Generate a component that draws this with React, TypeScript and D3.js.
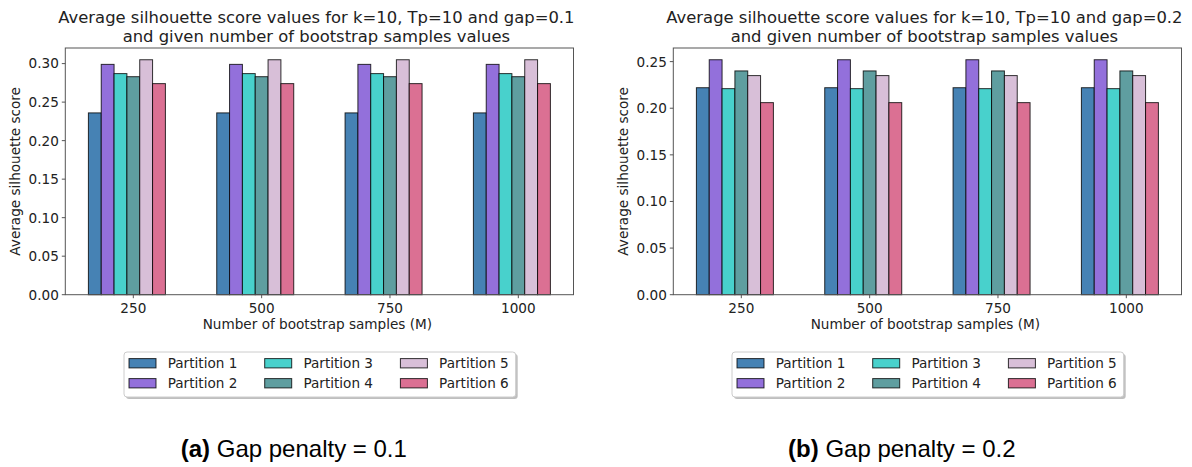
import React, { useEffect, useRef } from "react";
import * as d3 from "d3";

// bootstrap sample counts on the x axis
const categories = ["250", "500", "750", "1000"];
const partitions = ["Partition 1", "Partition 2", "Partition 3", "Partition 4", "Partition 5", "Partition 6"];
const colors = ["#4682b4", "#9370db", "#48d1cc", "#5f9ea0", "#d8bfd8", "#db7093"];

// gap = 0.1, one row per category, one value per partition
const gap01Values = [
  [0.236, 0.299, 0.287, 0.283, 0.305, 0.274],
  [0.236, 0.299, 0.287, 0.283, 0.305, 0.274],
  [0.236, 0.299, 0.287, 0.283, 0.305, 0.274],
  [0.236, 0.299, 0.287, 0.283, 0.305, 0.274],
];
// gap = 0.2
const gap02Values = [
  [0.222, 0.252, 0.221, 0.240, 0.235, 0.206],
  [0.222, 0.252, 0.221, 0.240, 0.235, 0.206],
  [0.222, 0.252, 0.221, 0.240, 0.235, 0.206],
  [0.222, 0.252, 0.221, 0.240, 0.235, 0.206],
];

const gap01Ticks = [0, 0.05, 0.1, 0.15, 0.2, 0.25, 0.3];
const gap02Ticks = [0, 0.05, 0.1, 0.15, 0.2, 0.25];

const titles01 = ["Average silhouette score values for k=10, Tp=10 and gap=0.1", "and given number of bootstrap samples values"];
const titles02 = ["Average silhouette score values for k=10, Tp=10 and gap=0.2", "and given number of bootstrap samples values"];

const FONT = "DejaVu Sans, sans-serif";
const FS = 13.6;

const App = () => {
  const svgRef = useRef<SVGSVGElement>(null);

  useEffect(() => {
    const svg = d3.select(svgRef.current);
    svg.selectAll("*").remove();

    const panels = [
      { dx: 0, values: gap01Values, ticks: gap01Ticks, title: titles01, tag: "(a)", caption: " Gap penalty = 0.1" },
      { dx: 608, values: gap02Values, ticks: gap02Ticks, title: titles02, tag: "(b)", caption: " Gap penalty = 0.2" },
    ];

    const left = 65.3;
    const right = 573.5;
    const top = 48;
    const bottom = 294.7;
    const barW = 0.1;

    panels.forEach((p) => {
      const g = svg.append("g").attr("transform", `translate(${p.dx},0)`);

      // x data: group i, bar j centred at i + j*0.1, matplotlib 5% margins
      const lo = -barW / 2;
      const hi = categories.length - 1 + (partitions.length - 1) * barW + barW / 2;
      const m = (hi - lo) * 0.05;
      const x = d3.scaleLinear().domain([lo - m, hi + m]).range([left, right]);

      const maxV = d3.max(p.values.flat()) as number;
      const y = d3.scaleLinear().domain([0, maxV * 1.05]).range([bottom, top]);

      // bars
      p.values.forEach((row, i) => {
        row.forEach((v, j) => {
          const cx = i + j * barW;
          g.append("rect")
            .attr("x", x(cx - barW / 2))
            .attr("y", y(v))
            .attr("width", x(cx + barW / 2) - x(cx - barW / 2))
            .attr("height", y(0) - y(v))
            .attr("fill", colors[j])
            .attr("stroke", "#000")
            .attr("stroke-opacity", 0.8)
            .attr("stroke-width", 1);
        });
      });

      // spines
      g.append("rect")
        .attr("x", left)
        .attr("y", top)
        .attr("width", right - left)
        .attr("height", bottom - top)
        .attr("fill", "none")
        .attr("stroke", "#555")
        .attr("stroke-width", 1);

      // y ticks
      p.ticks.forEach((t) => {
        g.append("line")
          .attr("x1", left - 3.5)
          .attr("x2", left)
          .attr("y1", y(t))
          .attr("y2", y(t))
          .attr("stroke", "#555");
        g.append("text")
          .attr("x", left - 6.5)
          .attr("y", y(t) + 4.9)
          .attr("text-anchor", "end")
          .attr("font-family", FONT)
          .attr("font-size", FS)
          .attr("fill", "#222")
          .text(d3.format(".2f")(t));
      });

      // x ticks at the 4th bar of each group
      categories.forEach((c, i) => {
        const tx = x(i + 3 * barW);
        g.append("line")
          .attr("x1", tx)
          .attr("x2", tx)
          .attr("y1", bottom)
          .attr("y2", bottom + 3.5)
          .attr("stroke", "#555");
        g.append("text")
          .attr("x", tx)
          .attr("y", 313.3)
          .attr("text-anchor", "middle")
          .attr("font-family", FONT)
          .attr("font-size", FS)
          .attr("fill", "#222")
          .text(c);
      });

      const cx = (left + right) / 2;

      // axis labels
      g.append("text")
        .attr("x", cx - 2)
        .attr("y", 328.7)
        .attr("text-anchor", "middle")
        .attr("font-family", FONT)
        .attr("font-size", FS)
        .attr("fill", "#222")
        .text("Number of bootstrap samples (M)");
      g.append("text")
        .attr("transform", `translate(${19.5},${(top + bottom) / 2}) rotate(-90)`)
        .attr("text-anchor", "middle")
        .attr("font-family", FONT)
        .attr("font-size", FS)
        .attr("fill", "#222")
        .text("Average silhouette score");

      // title
      p.title.forEach((line, k) => {
        g.append("text")
          .attr("x", cx - 3)
          .attr("y", 23 + k * 19.4)
          .attr("text-anchor", "middle")
          .attr("font-family", FONT)
          .attr("font-size", 16.4)
          .attr("fill", "#222")
          .text(line);
      });

      // legend
      const lx = 124;
      const ly = 352;
      const lw = 391.7;
      const lh = 45;
      g.append("rect")
        .attr("x", lx + 2)
        .attr("y", ly + 2)
        .attr("width", lw)
        .attr("height", lh)
        .attr("rx", 3)
        .attr("fill", "#000")
        .attr("opacity", 0.25);
      g.append("rect")
        .attr("x", lx)
        .attr("y", ly)
        .attr("width", lw)
        .attr("height", lh)
        .attr("rx", 3)
        .attr("fill", "#fff")
        .attr("stroke", "#ccc");

      partitions.forEach((name, j) => {
        const col = Math.floor(j / 2);
        const row = j % 2;
        const px = lx + 5 + col * 135.7;
        const rowC = 363.3 + row * 20;
        g.append("rect")
          .attr("x", px)
          .attr("y", rowC - 4.7)
          .attr("width", 27)
          .attr("height", 9.3)
          .attr("fill", colors[j])
          .attr("stroke", "#000")
          .attr("stroke-opacity", 0.8);
        g.append("text")
          .attr("x", px + 38.7)
          .attr("y", rowC + 4.9)
          .attr("font-family", FONT)
          .attr("font-size", FS)
          .attr("fill", "#222")
          .text(name);
      });

      // caption
      const cap = g.append("text")
        .attr("x", 293.8)
        .attr("y", 457)
        .attr("text-anchor", "middle")
        .attr("font-family", "Liberation Sans, Arial, sans-serif")
        .attr("font-size", 24)
        .attr("fill", "#000");
      cap.append("tspan").attr("font-weight", "bold").text(p.tag);
      cap.append("tspan").text(p.caption);
    });
  }, []);

  return (
    <div style={{ position: "absolute", left: 0, top: 0 }}>
      <svg ref={svgRef} width={1192} height={467} style={{ display: "block", background: "#fff" }}></svg>
    </div>
  );
};

export default App;
